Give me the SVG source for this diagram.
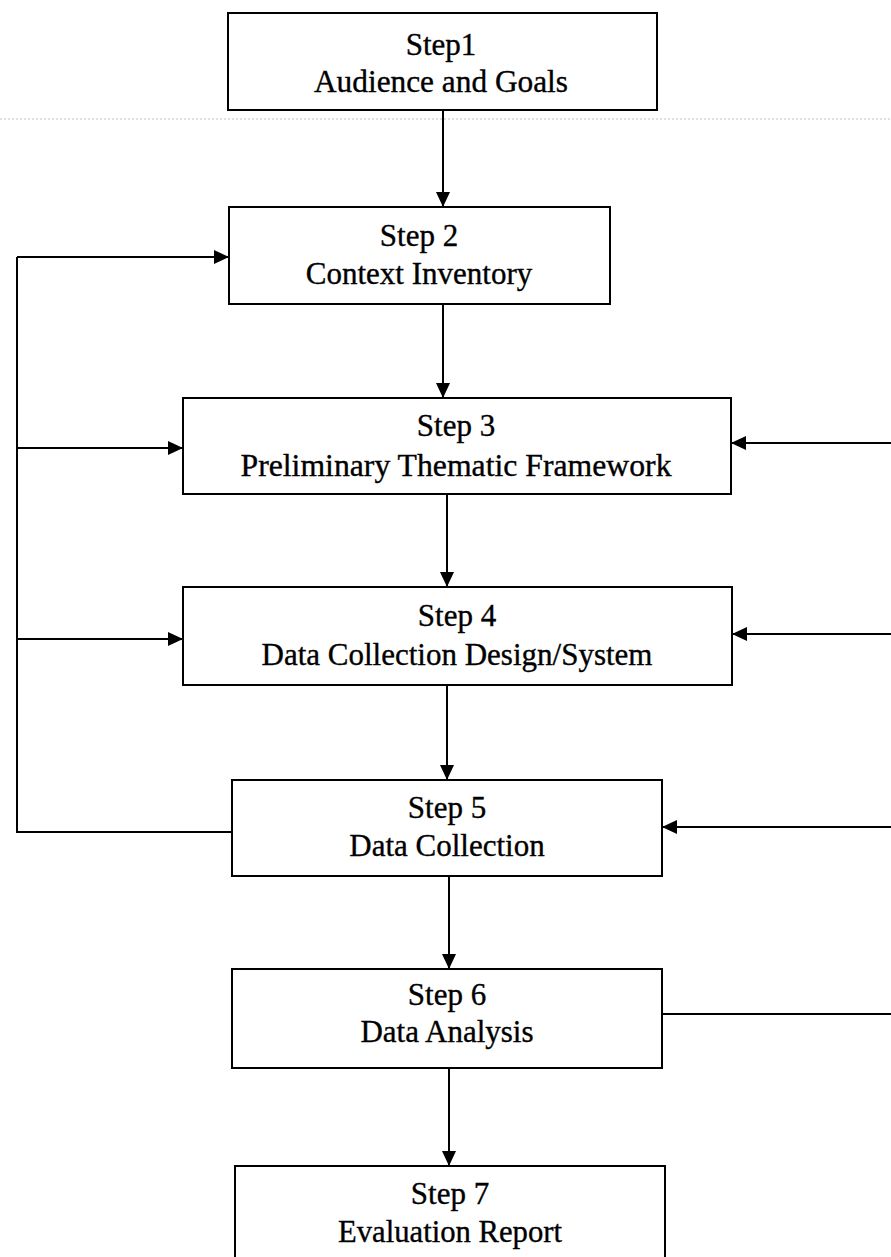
<svg xmlns="http://www.w3.org/2000/svg" width="891" height="1257" viewBox="0 0 891 1257">
  <style>
    .box { fill: #ffffff; stroke: #000000; stroke-width: 2; }
    .lbl { font-family: "Liberation Serif", "Times New Roman", serif; font-size: 31px; fill: #000000; stroke: #000000; stroke-width: 0.35; text-anchor: middle; }
    .wire { fill: none; stroke: #000000; stroke-width: 2; }
    .guide { fill: none; stroke: #c0c0c0; stroke-width: 1; stroke-dasharray: 2 2; }
  </style>
  <defs>
    <marker id="head" markerUnits="userSpaceOnUse" markerWidth="16" markerHeight="14" refX="15" refY="7" orient="auto">
      <path d="M0,0 L15,7 L0,14 Z" fill="#000000"/>
    </marker>
  </defs>
  <rect width="891" height="1257" fill="#ffffff"/>

  <!-- faint rule under the first step -->
  <line class="guide" x1="0" y1="119" x2="891" y2="119"/>

  <g id="connectors">
    <!-- main downward flow -->
    <line class="wire" x1="443" y1="111" x2="443" y2="207" marker-end="url(#head)"/>
    <line class="wire" x1="443" y1="305" x2="443" y2="398" marker-end="url(#head)"/>
    <line class="wire" x1="447" y1="495" x2="447" y2="587" marker-end="url(#head)"/>
    <line class="wire" x1="447" y1="686" x2="447" y2="780" marker-end="url(#head)"/>
    <line class="wire" x1="449" y1="877" x2="449" y2="969" marker-end="url(#head)"/>
    <line class="wire" x1="449" y1="1069" x2="449" y2="1166" marker-end="url(#head)"/>

    <!-- left feedback loop from Step 5 -->
    <polyline class="wire" points="232,832 17,832 17,257"/>
    <line class="wire" x1="17" y1="257" x2="229" y2="257" marker-end="url(#head)"/>
    <line class="wire" x1="17" y1="448" x2="183" y2="448" marker-end="url(#head)"/>
    <line class="wire" x1="17" y1="639" x2="183" y2="639" marker-end="url(#head)"/>

    <!-- right-hand returns from Step 6 -->
    <line class="wire" x1="662" y1="1014" x2="891" y2="1014"/>
    <line class="wire" x1="891" y1="443" x2="731" y2="443" marker-end="url(#head)"/>
    <line class="wire" x1="891" y1="634" x2="732" y2="634" marker-end="url(#head)"/>
    <line class="wire" x1="891" y1="827" x2="662" y2="827" marker-end="url(#head)"/>
  </g>

  <g id="step1">
    <rect class="box" x="228" y="13" width="429" height="97"/>
    <text class="lbl" x="441" y="55">Step1</text>
    <text class="lbl" x="441" y="92" textLength="254" lengthAdjust="spacingAndGlyphs">Audience and Goals</text>
  </g>

  <g id="step2">
    <rect class="box" x="229" y="207" width="381" height="97"/>
    <text class="lbl" x="419" y="246">Step 2</text>
    <text class="lbl" x="419" y="284">Context Inventory</text>
  </g>

  <g id="step3">
    <rect class="box" x="183" y="398" width="548" height="96"/>
    <text class="lbl" x="456" y="436">Step 3</text>
    <text class="lbl" x="456" y="476" textLength="431" lengthAdjust="spacingAndGlyphs">Preliminary Thematic Framework</text>
  </g>

  <g id="step4">
    <rect class="box" x="183" y="587" width="549" height="98"/>
    <text class="lbl" x="457" y="626">Step 4</text>
    <text class="lbl" x="457" y="665">Data Collection Design/System</text>
  </g>

  <g id="step5">
    <rect class="box" x="232" y="780" width="430" height="96"/>
    <text class="lbl" x="447" y="818">Step 5</text>
    <text class="lbl" x="447" y="856">Data Collection</text>
  </g>

  <g id="step6">
    <rect class="box" x="232" y="969" width="430" height="99"/>
    <text class="lbl" x="447" y="1005">Step 6</text>
    <text class="lbl" x="447" y="1042">Data Analysis</text>
  </g>

  <g id="step7">
    <rect class="box" x="235" y="1166" width="430" height="100"/>
    <text class="lbl" x="450" y="1204">Step 7</text>
    <text class="lbl" x="450" y="1242" textLength="224" lengthAdjust="spacingAndGlyphs">Evaluation Report</text>
  </g>
</svg>
